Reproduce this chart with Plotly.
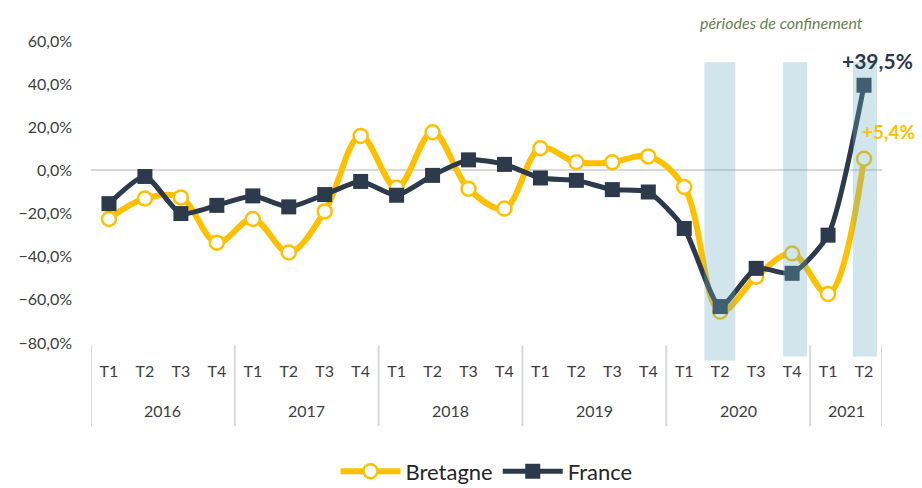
import plotly.graph_objects as go

years = ["2016"] * 4 + ["2017"] * 4 + ["2018"] * 4 + ["2019"] * 4 + ["2020"] * 4 + ["2021"] * 2
quarters = ["T1", "T2", "T3", "T4"] * 5 + ["T1", "T2"]

bretagne = [-22.5, -13.0, -12.5, -33.5, -22.5, -38.0, -19.0, 16.0,
            -8.0, 17.7, -8.5, -17.7, 10.3, 3.8, 3.8, 6.5,
            -7.7, -65.5, -49.3, -38.5, -57.3, 5.4]
france = [-15.4, -2.8, -20.0, -16.2, -11.8, -16.9, -11.2, -5.1,
          -11.5, -2.3, 4.9, 2.8, -3.5, -4.6, -8.9, -10.0,
          -26.9, -63.1, -45.4, -47.7, -30.0, 39.5]

# confinement periods (year, quarter)
confinements = [("2020", "T2"), ("2020", "T4"), ("2021", "T2")]
conf_halfwidths = [(0.44, 0.42), (0.25, 0.42), (0.31, 0.36)]
conf_bottoms = [-0.058, -0.045, -0.045]

YELLOW = "#FFC000"
DARK = "#2C3A4B"
FONT = "Lato"
GREY_TXT = "#404040"

cats = [f"{q} {y}" for y, q in zip(years, quarters)]
pairs = list(zip(years, quarters))

fig = go.Figure()

fig.add_trace(go.Scatter(
    x=cats, y=bretagne, name="Bretagne",
    mode="lines+markers",
    line=dict(color=YELLOW, width=6, shape="spline", smoothing=1),
    marker=dict(symbol="circle", size=14, color="white",
                line=dict(color=YELLOW, width=2.5)),
))
fig.add_trace(go.Scatter(
    x=cats, y=france, name="France",
    mode="lines+markers",
    line=dict(color=DARK, width=5, shape="spline", smoothing=0.6),
    marker=dict(symbol="square", size=15, color=DARK),
))

# confinement bands
for (c, (lw, rw), b) in zip(confinements, conf_halfwidths, conf_bottoms):
    i = pairs.index(c)
    fig.add_shape(type="rect", xref="x", yref="paper",
                  x0=i - lw, x1=i + rw, y0=b, y1=0.93,
                  fillcolor="rgba(108,176,196,0.32)", line=dict(width=0),
                  layer="above")

# year groups: dividers and labels
unique_years = []
for y in years:
    if y not in unique_years:
        unique_years.append(y)
bounds = []
for y in unique_years:
    idx = [i for i, yy in enumerate(years) if yy == y]
    start, end = idx[0] - 0.5, idx[-1] + 0.5
    bounds.append((start, end))
    fig.add_annotation(x=(start + end) / 2, y=-0.222, xref="x", yref="paper",
                       text=y, showarrow=False, yanchor="middle",
                       font=dict(family=FONT, size=16, color=GREY_TXT))
div_x = sorted(set([b for pair in bounds for b in pair]))
for dx in div_x:
    fig.add_shape(type="line", xref="x", yref="paper", x0=dx, x1=dx,
                  y0=-0.008, y1=-0.275, line=dict(color="#D9D9D9", width=2))

i_last = len(france) - 1
fig.add_annotation(x=i_last, y=france[-1], xref="x", yref="y",
                   text="<b>+" + f"{france[-1]:.1f}".replace(".", ",") + "%</b>",
                   showarrow=False, xshift=13, yshift=25,
                   font=dict(family=FONT, size=21, color=DARK))
fig.add_annotation(x=i_last, y=bretagne[-1], xref="x", yref="y",
                   text="<b>+" + f"{bretagne[-1]:.1f}".replace(".", ",") + "%</b>",
                   showarrow=False, xshift=24, yshift=27,
                   font=dict(family=FONT, size=19, color=YELLOW))
fig.add_annotation(x=pairs.index(("2020", "T4")) - 0.3, y=1.06, xref="x", yref="paper",
                   text="<i>périodes de confinement</i>", showarrow=False,
                   yanchor="middle",
                   font=dict(family=FONT, size=16, color="#6E7F52"))

fig.update_layout(
    width=922, height=488,
    margin=dict(l=91, r=40, t=41, b=145, autoexpand=False),
    paper_bgcolor="white", plot_bgcolor="white",
    separators=", ",
    font=dict(family=FONT, color=GREY_TXT),
    showlegend=True,
    legend=dict(orientation="h", x=0.5, xanchor="center", y=-0.425, yanchor="middle",
                font=dict(size=22, color="#262626"), itemwidth=60),
    xaxis=dict(type="category", showgrid=False, showline=False, ticks="",
               tickvals=cats, ticktext=quarters, automargin=False,
               ticklabelstandoff=17, range=[-0.5, len(cats) - 0.5],
               tickfont=dict(size=16, color=GREY_TXT)),
    yaxis=dict(range=[-80, 60], dtick=20, tickformat=".1f", ticksuffix="%",
               showgrid=False, zeroline=True, zerolinecolor="#D9D9D9", zerolinewidth=2,
               showline=False, ticks="", ticklabelstandoff=18, automargin=False,
               tickfont=dict(size=16, color=GREY_TXT)),
)

fig.write_html("out.html", config={"displayModeBar": False},
               post_script="document.body.style.margin='0';")
